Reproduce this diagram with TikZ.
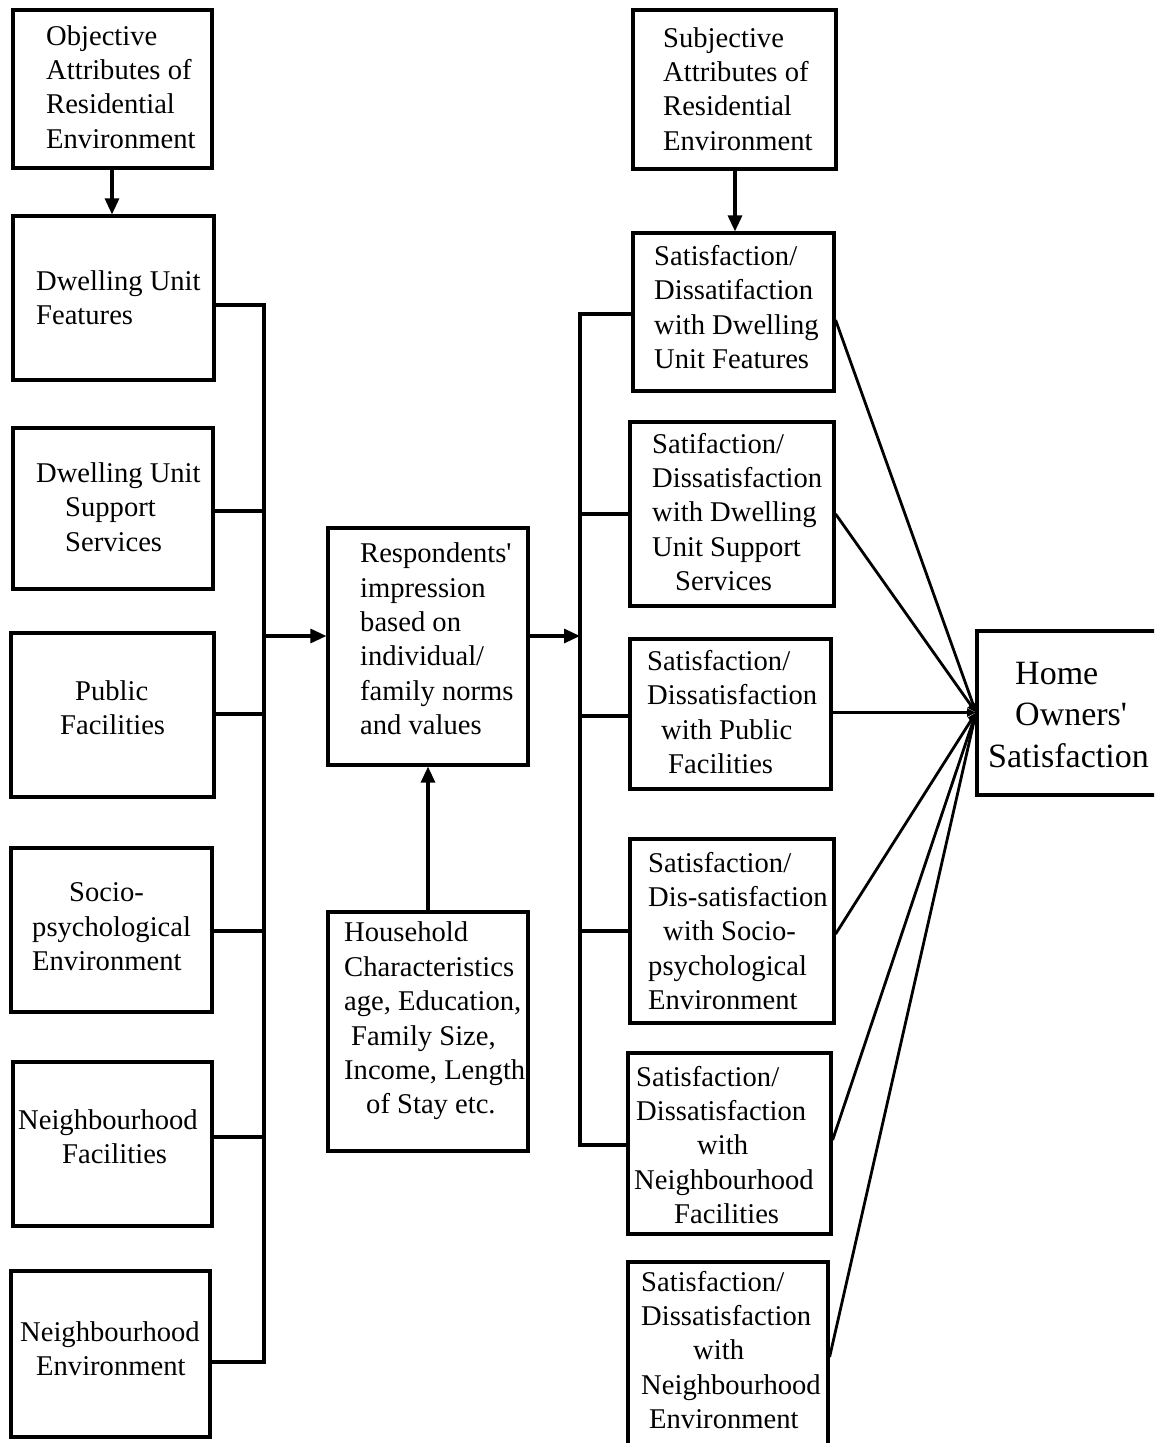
\documentclass[tikz,border=0pt]{standalone}
\usepackage{fontspec}
\setmainfont{Liberation Serif}[Ligatures=TeXOff]
\usetikzlibrary{arrows.meta,calc}
\begin{document}
\begin{tikzpicture}[x=1pt,y=-1pt,
  box/.style={draw,line width=3.2pt,rectangle,inner sep=0pt},
  txt/.style={inner sep=0pt,anchor=west,align=left,font=\fontsize{28.6}{34.4}\selectfont},
  bigtxt/.style={inner sep=0pt,anchor=west,align=left,font=\fontsize{34}{41.5}\selectfont},
  conn/.style={line width=3.2pt},
  arr/.style={line width=3.2pt,-{Triangle[length=16pt,width=14pt]}},
  conv/.style={line width=2.8pt,-{Triangle[length=9pt,width=8pt]}}]
\clip (0,0) rectangle (1154,1443);
\fill[white] (0,0) rectangle (1154,1443);

% left column
\node[box,minimum width=199pt,minimum height=158pt] (L1) at (112.5,89) {};
\node[box,minimum width=201pt,minimum height=164pt] (L2) at (113.5,298) {};
\node[box,minimum width=200pt,minimum height=161pt] (L3) at (113,508.5) {};
\node[box,minimum width=203pt,minimum height=164pt] (L4) at (112.5,715) {};
\node[box,minimum width=201pt,minimum height=164pt] (L5) at (111.5,930) {};
\node[box,minimum width=199pt,minimum height=164pt] (L6) at (112.5,1144) {};
\node[box,minimum width=199pt,minimum height=166pt] (L7) at (110.5,1354) {};

\node[txt] (t1) at (46,87) {Objective\\Attributes of\\Residential\\Environment};
\node[txt] (t2) at (36,298) {Dwelling Unit\\Features};
\node[txt] (t3) at (36,507) {Dwelling Unit\\\hspace*{29pt}Support\\\hspace*{29pt}Services};
\node[txt] (t4) at (60,708) {\hspace*{15pt}Public\\Facilities};
\node[txt] (t5) at (32,927) {\hspace*{37pt}Socio-\\psychological\\Environment};
\node[txt] (t6) at (18,1137) {Neighbourhood\\\hspace*{44pt}Facilities};
\node[txt] (t7) at (20,1349) {Neighbourhood\\\hspace*{16pt}Environment};

% middle column
\node[box,minimum width=200pt,minimum height=237pt] (M1) at (428,646.5) {};
\node[box,minimum width=200pt,minimum height=239pt] (M2) at (428,1031.5) {};
\node[txt] (tm1) at (360,639) {Respondents'\\impression\\based on\\individual/\\family norms\\and values};
\node[txt] (tm2) at (344,1021) {Household\\Characteristics\\age, Education,\\\hspace*{7pt}Family Size,\\Income, Length\\\hspace*{22pt}of Stay etc.};

% right column
\node[box,minimum width=203pt,minimum height=159pt] (R0) at (734.5,89.5) {};
\node[box,minimum width=201pt,minimum height=158pt] (RA) at (733.5,312) {};
\node[box,minimum width=204pt,minimum height=184pt] (RB) at (732,514) {};
\node[box,minimum width=201pt,minimum height=150pt] (RC) at (730.5,714) {};
\node[box,minimum width=204pt,minimum height=184pt] (RD) at (732,931) {};
\node[box,minimum width=203pt,minimum height=181pt] (RE) at (729.5,1143.5) {};
\node[box,minimum width=200pt,minimum height=198pt] (RF) at (728,1361) {};

\node[txt] (tr0) at (663,89) {Subjective\\Attributes of\\Residential\\Environment};
\node[txt] (trA) at (654,307) {Satisfaction/\\Dissatifaction\\with Dwelling\\Unit Features};
\node[txt] (trB) at (652,512) {Satifaction/\\Dissatisfaction\\with Dwelling\\Unit Support\\\hspace*{23pt}Services};
\node[txt] (trC) at (647,712) {Satisfaction/\\Dissatisfaction\\\hspace*{14pt}with Public\\\hspace*{21pt}Facilities};
\node[txt] (trD) at (648,931) {Satisfaction/\\Dis-satisfaction\\\hspace*{15pt}with Socio-\\psychological\\Environment};
\node[txt] (trE) at (634,1145) {\hspace*{2pt}Satisfaction/\\\hspace*{2pt}Dissatisfaction\\\hspace*{63pt}with\\Neighbourhood\\\hspace*{40pt}Facilities};
\node[txt] (trF) at (641,1350) {Satisfaction/\\Dissatisfaction\\\hspace*{52pt}with\\Neighbourhood\\\hspace*{8pt}Environment};

% home owners
\node[box,minimum width=188pt,minimum height=164pt] (H) at (1071,713) {};
\node[bigtxt] (tH) at (988,715) {\hspace*{27pt}Home\\\hspace*{27pt}Owners'\\Satisfaction};

% left bus
\coordinate (lb2) at (264,305);
\coordinate (lb3) at (264,511);
\coordinate (lb4) at (264,714);
\coordinate (lb5) at (264,931);
\coordinate (lb6) at (264,1137);
\coordinate (lb7) at (264,1362);
\coordinate (lbm) at (264,636);
\draw[conn] (lb2 -| L2.east) -- (lb2) -- (lb7) -- (lb7 -| L7.east);
\draw[conn] (lb3 -| L3.east) -- (lb3);
\draw[conn] (lb4 -| L4.east) -- (lb4);
\draw[conn] (lb5 -| L5.east) -- (lb5);
\draw[conn] (lb6 -| L6.east) -- (lb6);
\draw[arr] (lbm) -- (lbm -| M1.west);

% vertical arrows
\draw[arr] (L1.south -| 112,0) -- (L2.north -| 112,0);
\draw[arr] (M2.north) -- (M1.south);
\draw[arr] (R0.south -| 735,0) -- (RA.north -| 735,0);

% right bus
\coordinate (rbA) at (580,314);
\coordinate (rbB) at (580,514);
\coordinate (rbC) at (580,716);
\coordinate (rbD) at (580,931);
\coordinate (rbE) at (580,1145);
\coordinate (rbm) at (580,636);
\draw[conn] (rbA -| RA.west) -- (rbA) -- (rbE) -- (rbE -| RE.west);
\draw[conn] (rbB) -- (rbB -| RB.west);
\draw[conn] (rbC) -- (rbC -| RC.west);
\draw[conn] (rbD) -- (rbD -| RD.west);
\draw[arr] (rbm -| M1.east) -- (rbm);

% converging lines
\coordinate (hc) at (976,712.5);
\coordinate (sA) at (834,320);
\coordinate (sB) at (834,514);
\coordinate (sC) at (831,712.5);
\coordinate (sD) at (834,934);
\coordinate (sE) at (831,1140);
\coordinate (sF) at (828,1357);
\draw[conv] (sA -| RA.east) -- (hc);
\draw[conv] (sB -| RB.east) -- (hc);
\draw[conv] (sC -| RC.east) -- (hc);
\draw[conv] (sD -| RD.east) -- (hc);
\draw[conv] (sE -| RE.east) -- (hc);
\draw[conv] (sF -| RF.east) -- (hc);
\end{tikzpicture}
\end{document}
